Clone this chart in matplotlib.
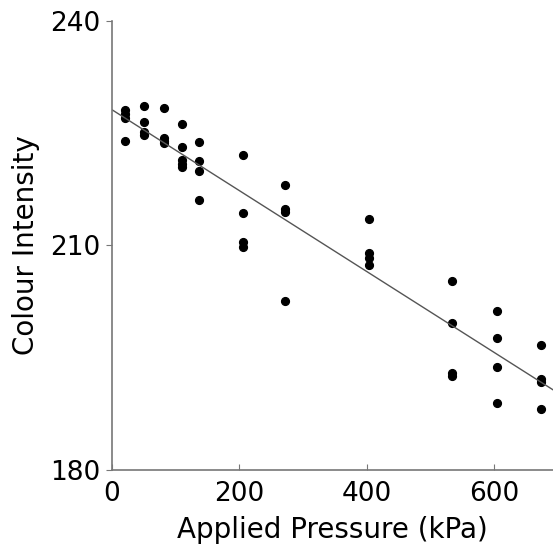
import numpy as np
import matplotlib
matplotlib.use("Agg")
import matplotlib.pyplot as plt

plt.rcParams['font.family'] = ['DejaVu Sans']

# applied pressure (kPa) for each measurement group
pressure = [21, 50, 81, 110, 137, 206, 271, 404, 534, 604, 673]

# colour intensity readings at each pressure
intensity = [
    [228.1, 227.6, 227.0, 224.0],
    [228.6, 226.5, 225.1, 224.7],
    [228.3, 224.4, 224.0, 223.7],
    [226.2, 223.2, 221.4, 220.9, 220.5],
    [223.8, 221.3, 220.0, 216.0],
    [222.1, 214.3, 210.5, 209.8],
    [218.1, 214.9, 214.4, 202.6],
    [213.5, 209.0, 208.3, 207.4],
    [205.2, 199.6, 193.0, 192.6],
    [201.2, 197.7, 193.8, 189.0],
    [196.7, 192.2, 191.8, 188.2],
]

xs = np.concatenate([[p] * len(v) for p, v in zip(pressure, intensity)])
ys = np.concatenate(intensity)

# linear regression
slope, icpt = np.polyfit(xs, ys, 1)

fig = plt.figure(figsize=(5.53, 5.55), dpi=100)
ax = fig.add_axes([0.2025, 0.153, 0.7975, 0.8096])

ax.plot(xs, ys, 'o', color='black', markersize=5.6)
xl = np.array([0, 692])
ax.plot(xl, icpt + slope * xl, color='#555555', lw=1)

ax.set_xlim(0, 692)
ax.set_ylim(180, 240)
ax.set_xticks([0, 200, 400, 600])
ax.set_yticks([180, 210, 240])

for s in ['top', 'right']:
    ax.spines[s].set_visible(False)
for s in ['left', 'bottom']:
    ax.spines[s].set_color('#777777')
    ax.spines[s].set_linewidth(1.2)

ax.tick_params(axis='x', direction='in', length=4, color='#777777',
               labelsize=19, pad=8)
ax.tick_params(axis='y', direction='out', length=4, color='#777777',
               labelsize=19, pad=4)

ax.set_xlabel('Applied Pressure (kPa)', fontsize=20, labelpad=6)
ax.set_ylabel('Colour Intensity', fontsize=20, labelpad=8)

fig.savefig('out.png', dpi=100)
